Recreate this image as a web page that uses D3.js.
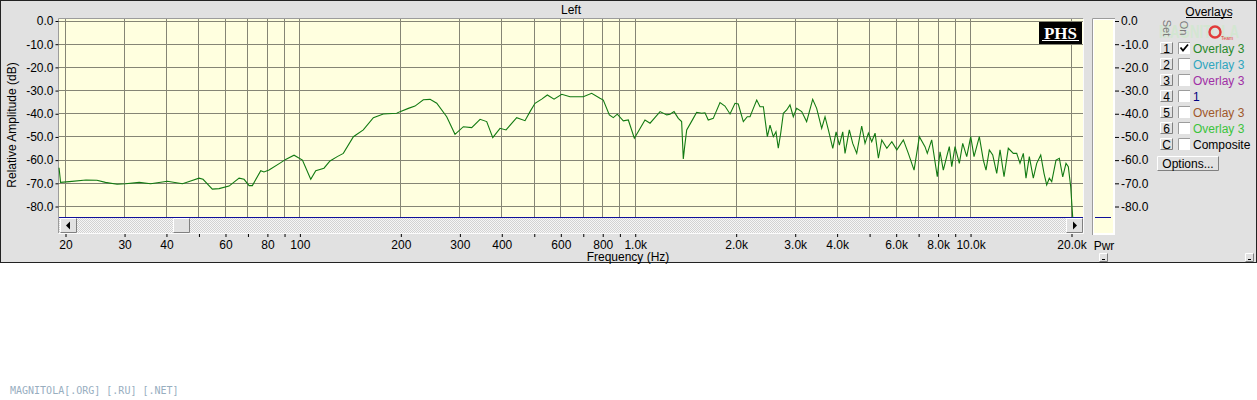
<!DOCTYPE html>
<html><head><meta charset="utf-8">
<script src="https://cdn.jsdelivr.net/npm/d3@7"></script>
<style>
body{margin:0;background:#fff;}
svg{display:block;font-family:Arial,"Liberation Sans",sans-serif;}
</style>
</head><body>
<svg id="chart" width="1257" height="400"></svg>
<script>
// ---- data ----
const freqs = [19.2,19.4,20.6,23.1,24.9,26.4,28.6,30.3,33.3,36.0,40.4,44.8,47.4,50.2,51.6,55.0,57.6,61.7,66.1,68.4,70.8,72.4,76.7,78.4,81.2,88.0,91.0,96.4,102.1,108.1,111.9,118.4,123.4,129.7,135.2,144.9,155.1,166.2,177.9,195.1,199.6,211.3,221.2,234.2,245.3,256.8,275.0,291.1,308.3,326.5,345.8,361.9,377.3,396.6,413.3,444.7,470.8,487.3,504.3,528.0,548.8,574.7,605.9,641.4,702.6,744.0,787.6,805.8,840.0,863.3,887.3,924.6,957.0,997.3,1025,1073,1111,1190,1246,1274,1310,1349,1380,1396,1409,1429,1495,1530,1584,1620,1657,1715,1796,1858,1924,1991,2036,2108,2166,2207,2258,2311,2364,2419,2486,2532,2590,2638,2680,2725,2775,2839,2904,2971,3040,3147,3256,3394,3488,3610,3694,3780,3896,3986,4076,4172,4238,4365,4468,4592,4752,4862,4975,5091,5209,5329,5455,5647,5844,6048,6326,6546,6808,7060,7338,7456,7684,7986,8137,8323,8520,8673,8819,9020,9290,9509,9774,10046,10278,10658,10954,11158,11414,11684,12010,12286,12628,13004,13460,13776,14090,14416,14684,15022,15440,15804,16246,16616,16928,17232,17520,18044,18460,18896,19326,19634,19960,20236];
const levels = [-63.5,-69.8,-69.5,-68.8,-68.9,-69.8,-70.6,-70.4,-69.8,-70.4,-69.3,-70.4,-69.2,-68.0,-68.5,-72.7,-72.5,-71.4,-68.0,-68.5,-71.2,-71.2,-64.8,-65.3,-64.5,-61.3,-59.9,-58.1,-60.2,-68.5,-64.8,-63.7,-60.6,-58.7,-57.3,-50.1,-47.2,-41.9,-40.3,-40.0,-39.3,-37.9,-36.9,-34.2,-34.0,-35.7,-41.5,-49.1,-45.8,-46.2,-42.6,-43.6,-50.5,-46.5,-47.2,-41.9,-43.2,-39.3,-35.7,-33.9,-32.1,-33.9,-31.8,-32.9,-32.9,-31.4,-33.5,-34.3,-40.7,-41.9,-40.4,-43.3,-42.9,-50.8,-47.9,-42.9,-44.3,-39.3,-40.7,-40.4,-39.3,-42.2,-43.6,-59.7,-54.4,-47.2,-42.2,-39.6,-40.0,-39.8,-42.9,-42.2,-35.4,-36.9,-40.3,-35.7,-36.0,-43.6,-41.5,-41.5,-37.9,-34.3,-37.2,-37.2,-50.1,-45.1,-50.1,-48.0,-55.1,-48.6,-40.0,-38.6,-36.4,-41.5,-37.9,-39.3,-43.6,-34.0,-37.9,-46.5,-41.5,-47.2,-55.1,-48.0,-53.7,-48.0,-57.3,-47.2,-53.0,-57.3,-45.5,-53.0,-48.6,-52.3,-48.6,-59.4,-51.5,-55.1,-52.3,-55.8,-51.5,-57.3,-64.5,-50.1,-54.4,-57.3,-51.5,-67.4,-56.6,-64.5,-58.7,-54.4,-63.0,-54.4,-61.6,-53.0,-58.7,-50.1,-58.7,-50.1,-60.2,-64.5,-55.8,-58.0,-65.9,-55.8,-67.4,-55.1,-57.3,-57.3,-61.6,-57.3,-68.0,-58.7,-68.0,-61.6,-58.0,-65.9,-70.9,-68.0,-69.5,-60.2,-59.4,-67.4,-61.6,-63.0,-71.7,-84.9];
const floorLevel = -85;
const gridFreqs = [20,30,40,50,60,70,80,90,100,200,300,400,500,600,700,800,900,1000,2000,3000,4000,5000,6000,7000,8000,9000,10000,20000];
const xTickValues = [20,30,40,50,60,70,80,90,100,200,300,400,500,600,700,800,900,1000,2000,3000,4000,5000,6000,7000,8000,9000,10000,20000];
const xTickLabels = ["20","30","40","","60","","80","","100","200","300","400","","600","","800","","1.0k","2.0k","3.0k","4.0k","","6.0k","","8.0k","","10.0k","20.0k"];
const yTicks = [0,-10,-20,-30,-40,-50,-60,-70,-80];
const overlaySets = ["1","2","3","4","5","6","C"];
const overlayNames = ["Overlay 3","Overlay 3","Overlay 3","1","Overlay 3","Overlay 3","Composite"];
const overlayChecked = [true,false,false,false,false,false,false];
const overlayColors = ["#2a8a2a","#2fa6bf","#a02fa6","#000080","#a0582a","#3cc43c","#000000"];

// ---- layout ----
const svg = d3.select("#chart");
const P = {l:59, r:1083, t:19, b:217, sb:233};
const x = d3.scaleLog().domain([20,20000]).range([65,1071]);
const y = d3.scaleLinear().domain([0,-85]).range([20.5,217.6]);
const gridCol = "#858575";
const panel = "#e1e1e1";

svg.append("rect").attr("x",0.5).attr("y",0.5).attr("width",1256).attr("height",262)
  .attr("fill",panel).attr("stroke","#222");

// title
svg.append("text").attr("x",571).attr("y",14).attr("text-anchor","middle")
  .attr("font-size",12).attr("fill","#000").text("Left");

// plot background
svg.append("rect").attr("x",P.l).attr("y",P.t).attr("width",P.r-P.l).attr("height",P.b-P.t).attr("fill","#ffffdf");

// scrollbar hatched area
const defs = svg.append("defs");
const pat = defs.append("pattern").attr("id","hatch").attr("width",2).attr("height",2).attr("patternUnits","userSpaceOnUse");
pat.append("rect").attr("width",2).attr("height",2).attr("fill","#f6f6f6");
pat.append("rect").attr("width",1).attr("height",1).attr("fill","#d2d2d2");
pat.append("rect").attr("x",1).attr("y",1).attr("width",1).attr("height",1).attr("fill","#d2d2d2");
svg.append("rect").attr("x",P.l).attr("y",P.b+1).attr("width",P.r-P.l).attr("height",P.sb-P.b-1).attr("fill","url(#hatch)");

function button(g, bx, by, bw, bh){
  g.append("rect").attr("x",bx).attr("y",by).attr("width",bw).attr("height",bh).attr("fill","#e1e1e1");
  g.append("path").attr("d",`M${bx+0.5},${by+bh-0.5}V${by+0.5}H${bx+bw-0.5}`).attr("stroke","#fff").attr("fill","none");
  g.append("path").attr("d",`M${bx+0.5},${by+bh-0.5}H${bx+bw-0.5}V${by+0.5}`).attr("stroke","#808080").attr("fill","none");
}
const sbG = svg.append("g");
button(sbG,60,218,17,15);
button(sbG,173,218,17,15);
button(sbG,1066,218,17,15);
sbG.append("path").attr("d","M66,225.5L70,221.5V229.5Z").attr("fill","#000");
sbG.append("path").attr("d","M1077,225.5L1073,221.5V229.5Z").attr("fill","#000");

// grid
const grid = svg.append("g");
grid.selectAll("line.v").data(gridFreqs).join("line")
  .attr("x1",d=>Math.round(x(d))+0.5).attr("x2",d=>Math.round(x(d))+0.5)
  .attr("y1",P.t).attr("y2",P.b).attr("stroke",gridCol);
grid.selectAll("line.h").data(yTicks).join("line")
  .attr("x1",P.l).attr("x2",P.r)
  .attr("y1",d=>Math.round(y(d))+0.5).attr("y2",d=>Math.round(y(d))+0.5).attr("stroke",gridCol);

// floor line
svg.append("line").attr("x1",P.l).attr("x2",P.r)
  .attr("y1",Math.round(y(floorLevel))-0.5).attr("y2",Math.round(y(floorLevel))-0.5)
  .attr("stroke","#10109a");

// sunken border
svg.append("path").attr("d",`M${P.l-0.5},${P.sb}V${P.t-0.5}H${P.r+0.5}`).attr("stroke","#9c9c9c").attr("fill","none");
svg.append("path").attr("d",`M${P.l-0.5},${P.sb+0.5}H${P.r+0.5}V${P.t-0.5}`).attr("stroke","#fbfbfb").attr("fill","none");

// curve
const pts = freqs.map((f,i)=>[f,levels[i]]);
svg.append("path").datum(pts)
  .attr("d",d3.line().x(d=>x(d[0])).y(d=>y(d[1])))
  .attr("fill","none").attr("stroke","#127a12").attr("stroke-width",1.1);

// PHS logo
const logo = svg.append("g");
logo.append("rect").attr("x",1039).attr("y",22).attr("width",43).attr("height",22).attr("fill","#000");
logo.append("text").attr("x",1060.5).attr("y",39).attr("text-anchor","middle")
  .attr("font-family","'Liberation Serif','DejaVu Serif',serif").attr("font-weight","bold")
  .attr("font-size",17).attr("fill","#fff").text("PHS");
logo.append("line").attr("x1",1042).attr("x2",1079).attr("y1",40.5).attr("y2",40.5).attr("stroke","#fff");

// left axis
const yAxis = d3.axisLeft(y).tickValues(yTicks).tickFormat(d=>d.toFixed(1)).tickSize(3).tickPadding(2);
const ya = svg.append("g").attr("transform",`translate(${P.l-0.5},0.5)`).call(yAxis);
ya.select(".domain").remove();
ya.selectAll("text").attr("font-size",12).attr("font-family","Arial,'Liberation Sans',sans-serif").attr("fill","#000");
ya.selectAll("line").attr("stroke","#000");
svg.append("text").attr("transform","translate(16,125) rotate(-90)").attr("text-anchor","middle")
  .attr("font-size",12).attr("fill","#000").text("Relative Amplitude (dB)");

// bottom axis
const xAxis = d3.axisBottom(x).tickValues(xTickValues).tickFormat((d,i)=>xTickLabels[i]).tickSize(3).tickPadding(3);
const xa = svg.append("g").attr("transform",`translate(0.5,${P.sb+1})`).call(xAxis);
xa.select(".domain").remove();
xa.selectAll("text").attr("font-size",12).attr("font-family","Arial,'Liberation Sans',sans-serif").attr("fill","#000");
xa.selectAll("line").attr("stroke","#000");
svg.append("text").attr("x",628).attr("y",261).attr("text-anchor","middle")
  .attr("font-size",12).attr("fill","#000").text("Frequency (Hz)");

// Pwr bar
const pw = svg.append("g");
pw.append("rect").attr("x",1092).attr("y",18).attr("width",23).attr("height",217).attr("fill","#fff");
pw.append("rect").attr("x",1094).attr("y",20).attr("width",19).attr("height",213).attr("fill","#ffffdf");
pw.append("path").attr("d","M1092.5,235V18.5H1115").attr("stroke","#9c9c9c").attr("fill","none");
pw.append("line").attr("x1",1095).attr("x2",1111).attr("y1",Math.round(y(floorLevel))-0.5).attr("y2",Math.round(y(floorLevel))-0.5).attr("stroke","#10109a");
const pAxis = d3.axisRight(y).tickValues(yTicks).tickFormat(d=>d.toFixed(1)).tickSize(4).tickPadding(2);
const pa = svg.append("g").attr("transform","translate(1115,0.5)").call(pAxis);
pa.select(".domain").remove();
pa.selectAll("text").attr("font-size",12).attr("font-family","Arial,'Liberation Sans',sans-serif").attr("fill","#000");
pa.selectAll("line").attr("stroke","#000");
svg.append("text").attr("x",1104).attr("y",250).attr("text-anchor","middle").attr("font-size",12).attr("fill","#000").text("Pwr");

// small corner buttons
[[1099,253],[1245,253]].forEach(([bx,by])=>{
  const g = svg.append("g"); button(g,bx,by,9,9);
  g.append("line").attr("x1",bx+3).attr("x2",bx+6).attr("y1",by+6.5).attr("y2",by+6.5).attr("stroke","#000");
});

// Overlays panel
const ov = svg.append("g");
ov.append("text").attr("x",1159).attr("y",38).attr("font-size",19).attr("font-weight","bold")
  .attr("fill","#d3e6d1").attr("textLength",80).attr("lengthAdjust","spacingAndGlyphs").text("MAGNITOLA");
ov.append("circle").attr("cx",1215).attr("cy",32).attr("r",5.5).attr("fill","none").attr("stroke","#e23a3a").attr("stroke-width",2.4);
ov.append("text").attr("x",1221).attr("y",40).attr("font-size",5).attr("fill","#e23a3a").text("Team");
ov.append("text").attr("x",1209).attr("y",16).attr("text-anchor","middle").attr("font-size",12).attr("fill","#000").text("Overlays");
ov.append("line").attr("x1",1186).attr("x2",1232).attr("y1",17.5).attr("y2",17.5).attr("stroke","#000");
ov.append("text").attr("transform","translate(1163,28) rotate(90)").attr("text-anchor","middle").attr("font-size",11).attr("fill","#7a7a7a").text("Set");
ov.append("text").attr("transform","translate(1180,28) rotate(90)").attr("text-anchor","middle").attr("font-size",11).attr("fill","#7a7a7a").text("On");

overlaySets.forEach((s,i)=>{
  const cy = 48 + i*16;
  const g = ov.append("g");
  button(g,1160,cy-6,13,12);
  g.append("text").attr("x",1166.5).attr("y",cy+4.5).attr("text-anchor","middle").attr("font-size",12).attr("fill","#000").text(s);
  g.append("rect").attr("x",1178).attr("y",cy-6).attr("width",12).attr("height",12).attr("fill","#fff");
  g.append("path").attr("d",`M1178.5,${cy+6}V${cy-5.5}H1190`).attr("stroke","#9c9c9c").attr("fill","none");
  if(overlayChecked[i]) g.append("path").attr("d",`M1180.5,${cy-0.5}L1183,${cy+2.5}L1188,${cy-3.5}`).attr("stroke","#000").attr("stroke-width",1.8).attr("fill","none");
  g.append("text").attr("x",1193).attr("y",cy+4.5).attr("font-size",12).attr("fill",overlayColors[i]).text(overlayNames[i]);
});
const ob = ov.append("g");
button(ob,1157,156,62,15);
ob.append("text").attr("x",1188).attr("y",168).attr("text-anchor","middle").attr("font-size",12).attr("fill","#000").text("Options...");

// site watermark
svg.append("text").attr("x",10).attr("y",394).attr("font-family","'DejaVu Sans Mono','Liberation Mono',monospace")
  .attr("font-size",10).attr("fill","#98aebf").text("MAGNITOLA[.ORG] [.RU] [.NET]");
</script>
</body></html>
